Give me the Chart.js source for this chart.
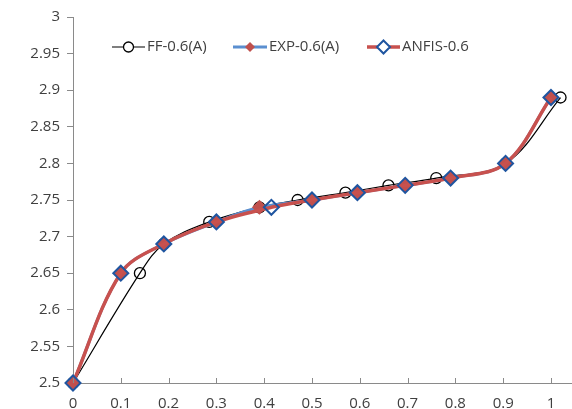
<!DOCTYPE html>
<html>
<head>
<meta charset="utf-8">
<script src="https://cdn.jsdelivr.net/npm/chart.js@4.4.1/dist/chart.umd.min.js"></script>
<style>
  html, body { margin: 0; padding: 0; background: #fff; overflow: hidden; }
  #wrap { width: 572px; height: 409px; }
</style>
</head>
<body>
<div id="wrap"><canvas id="myChart"></canvas></div>
<script>
const ffX = [0, 0.14, 0.19, 0.285, 0.39, 0.47, 0.57, 0.66, 0.76, 0.905, 1.02];
const ffY = [2.5, 2.65, 2.69, 2.72, 2.74, 2.75, 2.76, 2.77, 2.78, 2.8, 2.89];
const expX = [0, 0.1, 0.19, 0.3, 0.39, 0.5, 0.595, 0.695, 0.79, 0.905, 1];
const expY = [2.5, 2.65, 2.69, 2.72, 2.74, 2.75, 2.76, 2.77, 2.78, 2.8, 2.89];
const anfisX = [0, 0.1, 0.19, 0.3, 0.415, 0.5, 0.595, 0.695, 0.79, 0.905, 1];
const anfisY = [2.5, 2.65, 2.69, 2.72, 2.74, 2.75, 2.76, 2.77, 2.78, 2.8, 2.89];
const xTicks = [0, 0.1, 0.2, 0.3, 0.4, 0.5, 0.6, 0.7, 0.8, 0.9, 1];
const yTicks = [2.5, 2.55, 2.6, 2.65, 2.7, 2.75, 2.8, 2.85, 2.9, 2.95, 3];

const pts = (xs, ys) => xs.map((x, i) => ({ x: x, y: ys[i] }));
const axisColor = "#8a8a8a";
const textColor = "#404040";

// legend drawn inside the plot: line + marker + label
const insideLegend = {
  id: "insideLegend",
  afterDraw(chart) {
    const ctx = chart.ctx;
    const items = [
      { x0: 112, x1: 145 },
      { x0: 233, x1: 267 },
      { x0: 367, x1: 400 },
    ];
    const y = 47;
    ctx.save();
    chart.data.datasets.forEach((ds, i) => {
      const it = items[i];
      const cx = (it.x0 + it.x1) / 2;
      const r = ds.legendRadius;
      ctx.strokeStyle = ds.borderColor;
      ctx.lineWidth = ds.borderWidth;
      ctx.beginPath();
      ctx.moveTo(it.x0, y);
      ctx.lineTo(it.x1, y);
      ctx.stroke();
      ctx.fillStyle = ds.legendFill;
      ctx.strokeStyle = ds.pointBorderColor;
      ctx.lineWidth = ds.pointBorderWidth;
      ctx.beginPath();
      if (ds.pointStyle === "circle") {
        ctx.arc(cx, y, r, 0, Math.PI * 2);
      } else {
        ctx.moveTo(cx, y - r);
        ctx.lineTo(cx + r, y);
        ctx.lineTo(cx, y + r);
        ctx.lineTo(cx - r, y);
        ctx.closePath();
      }
      ctx.fill();
      if (ds.pointBorderWidth > 0) ctx.stroke();
      ctx.fillStyle = textColor;
      ctx.font = "15px 'Open Sans'";
      ctx.textBaseline = "middle";
      ctx.fillText(ds.label, it.x1 + 2, y);
    });
    ctx.restore();
  },
};

// x-axis tick marks point up into the plot
const innerTicks = {
  id: "innerTicks",
  afterDraw(chart) {
    const sx = chart.scales.x;
    const ctx = chart.ctx;
    ctx.save();
    ctx.strokeStyle = axisColor;
    ctx.lineWidth = 1;
    xTicks.forEach((v) => {
      const px = Math.round(sx.getPixelForValue(v)) + 0.5;
      ctx.beginPath();
      ctx.moveTo(px, sx.top);
      ctx.lineTo(px, sx.top - 5);
      ctx.stroke();
    });
    ctx.restore();
  },
};

new Chart("myChart", {
  type: "line",
  data: {
    datasets: [
      {
        label: "FF-0.6(A)",
        data: pts(ffX, ffY),
        borderColor: "#000000",
        borderWidth: 1.2,
        pointStyle: "circle",
        pointRadius: 5.5,
        legendRadius: 5,
        legendFill: "#ffffff",
        pointBackgroundColor: "rgba(255,255,255,0)",
        pointBorderColor: "#000000",
        pointBorderWidth: 1.3,
        tension: 0.35,
        clip: false,
        order: 3,
      },
      {
        label: "EXP-0.6(A)",
        data: pts(expX, expY),
        borderColor: "#5b8fd0",
        borderWidth: 3,
        pointStyle: "rectRot",
        pointRadius: 7.5,
        legendRadius: 5,
        legendFill: "#c0504d",
        pointBackgroundColor: "#c0504d",
        pointBorderColor: "#c0504d",
        pointBorderWidth: 0,
        tension: 0.35,
        clip: false,
        order: 2,
      },
      {
        label: "ANFIS-0.6",
        data: pts(anfisX, anfisY),
        borderColor: "#c8514e",
        borderWidth: 3.5,
        pointStyle: "rectRot",
        pointRadius: 7.5,
        legendRadius: 6.5,
        legendFill: "#ffffff",
        pointBackgroundColor: "rgba(255,255,255,0)",
        pointBorderColor: "#1f55a0",
        pointBorderWidth: 2,
        tension: 0.35,
        clip: false,
        order: 1,
      },
    ],
  },
  options: {
    responsive: true,
    maintainAspectRatio: false,
    animation: false,
    layout: { autoPadding: false, padding: { top: 17, right: 0, left: 0, bottom: 0 } },
    plugins: {
      legend: { display: false },
      tooltip: { enabled: false },
    },
    scales: {
      x: {
        type: "linear",
        min: 0,
        max: 1.044,
        afterBuildTicks: (axis) => {
          axis.ticks = xTicks.map((v) => ({ value: v }));
        },
        afterFit: (scale) => {
          scale.height = 26;
          scale.paddingRight = 0;
          scale.paddingLeft = 0;
        },
        grid: { drawOnChartArea: false, drawTicks: false },
        border: { color: axisColor, width: 1 },
        ticks: {
          padding: 12,
          color: textColor,
          font: { family: "'Open Sans'", size: 15 },
          callback: (v) => String(+v.toFixed(1)),
        },
      },
      y: {
        type: "linear",
        min: 2.5,
        max: 3,
        afterBuildTicks: (axis) => {
          axis.ticks = yTicks.map((v) => ({ value: v }));
        },
        afterFit: (scale) => {
          scale.width = 73;
        },
        grid: { drawOnChartArea: false, drawTicks: true, tickLength: 6, color: axisColor },
        border: { color: axisColor, width: 1 },
        ticks: {
          padding: 7,
          color: textColor,
          font: { family: "'Open Sans'", size: 15 },
          callback: (v) => String(+v.toFixed(2)),
        },
      },
    },
  },
  plugins: [insideLegend, innerTicks],
});
</script>
</body>
</html>
